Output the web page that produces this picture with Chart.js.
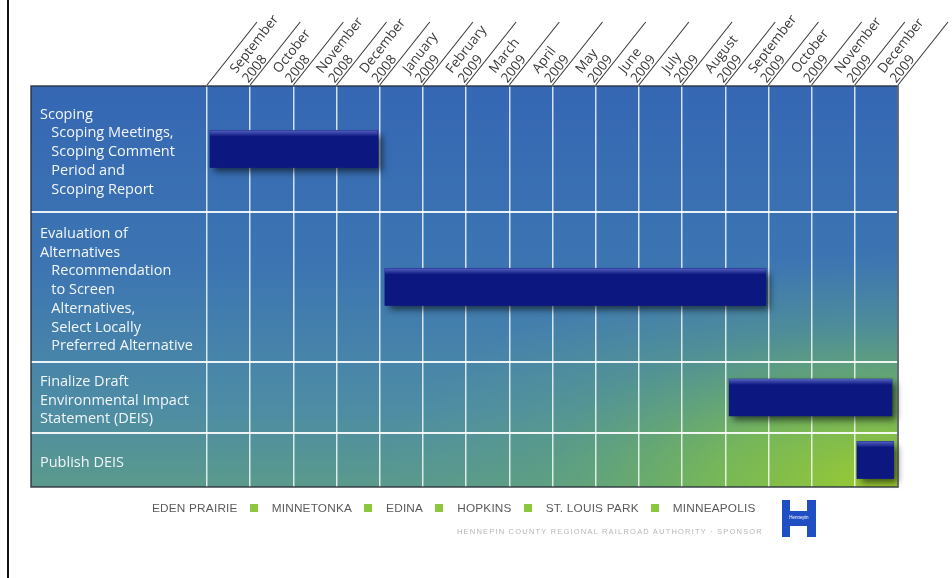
<!DOCTYPE html>
<html>
<head>
<meta charset="utf-8">
<script src="https://cdn.jsdelivr.net/npm/chart.js@4/dist/chart.umd.min.js"></script>
<style>
  html, body { margin: 0; padding: 0; background: #fff; }
  #wrap { position: relative; width: 952px; height: 578px; overflow: hidden; }
  #edge { position: absolute; left: 7px; top: 0; width: 2px; height: 578px; background: #111; }
  #footer { position: absolute; left: 152px; top: 501px; display: flex; align-items: center;
            font-family: "Liberation Sans", Arial, sans-serif; font-size: 11.8px; color: #5a5a5a; letter-spacing: 0.2px; }
  #footer .sq { width: 8px; height: 8px; background: #8dc63f; margin: 0 14px 0 12px; }
  #sponsor { position: absolute; right: 189px; top: 527px; font-family: "Liberation Sans", Arial, sans-serif;
             font-size: 7.5px; color: #b4b8b8; letter-spacing: 1.2px; }
  #logo { position: absolute; left: 782px; top: 500px; width: 34px; height: 37px; background: #1f4fc2; }
  #logo .notch { position: absolute; left: 8px; width: 17px; height: 11px; background: #fff; }
  #logo .top { top: 0; }
  #logo .bottom { bottom: 0; }
  #logo span { position: absolute; left: 0; width: 34px; top: 15px; text-align: center; font-family: "Liberation Sans", Arial, sans-serif;
               font-size: 4.5px; color: #fff; }
</style>
</head>
<body>
<div id="wrap">
  <canvas id="ganttChart"></canvas>
  <div id="edge"></div>
  <div id="footer"></div>
  <div id="sponsor">HENNEPIN COUNTY REGIONAL RAILROAD AUTHORITY · SPONSOR</div>
  <div id="logo"><div class="notch top"></div><div class="notch bottom"></div><span>Hennepin</span></div>
</div>
<script>
// Data

const months = [
  ["September", "2008"], ["October", "2008"], ["November", "2008"], ["December", "2008"],
  ["January", "2009"], ["February", "2009"], ["March", "2009"], ["April", "2009"],
  ["May", "2009"], ["June", "2009"], ["July", "2009"], ["August", "2009"],
  ["September", "2009"], ["October", "2009"], ["November", "2009"], ["December", "2009"]
];

const tasks = [
  ["Scoping", "   Scoping Meetings,", "   Scoping Comment", "   Period and", "   Scoping Report"],
  ["Evaluation of", "Alternatives", "   Recommendation", "   to Screen", "   Alternatives,", "   Select Locally", "   Preferred Alternative"],
  ["Finalize Draft", "Environmental Impact", "Statement (DEIS)"],
  ["Publish DEIS"]
];

// month index, 0 = start of September 2008
const taskStart = [0.07, 4.12, 12.09, 15.05];
const taskEnd = [3.95, 12.94, 15.86, 15.9];

const towns = ["EDEN PRAIRIE", "MINNETONKA", "EDINA", "HOPKINS", "ST. LOUIS PARK", "MINNEAPOLIS"];

// Layout

const rowHeights = [126, 150, 71, 54];
const rowEdges = [0];
rowHeights.forEach(h => rowEdges.push(rowEdges[rowEdges.length - 1] + h));
const rowCenters = rowHeights.map((h, i) => rowEdges[i] + h / 2);
const labelInset = 9;

const footer = document.getElementById("footer");
towns.forEach(function (name, i) {
  if (i > 0) {
    const sq = document.createElement("div");
    sq.className = "sq";
    footer.appendChild(sq);
  }
  const t = document.createElement("span");
  t.textContent = name;
  footer.appendChild(t);
});

// Plugins

const panelPlugin = {
  id: "panel",
  beforeDraw(chart) {
    const ctx = chart.ctx;
    const area = chart.chartArea;
    const left = chart.scales.y.left - labelInset;
    const w = area.right - left;
    const h = area.bottom - area.top;
    ctx.save();
    const vg = ctx.createLinearGradient(0, area.top, 0, area.bottom);
    vg.addColorStop(0, "#3567b3");
    vg.addColorStop(0.45, "#3c75b2");
    vg.addColorStop(0.8, "#4d8ca4");
    vg.addColorStop(1, "#5a9a8c");
    ctx.fillStyle = vg;
    ctx.fillRect(left, area.top, w, h);
    ctx.beginPath();
    ctx.rect(left, area.top, w, h);
    ctx.clip();
    ctx.translate(area.right, area.bottom);
    ctx.scale(2.2, 1);
    const rg = ctx.createRadialGradient(0, 0, 0, 0, 0, 235);
    rg.addColorStop(0, "rgba(158,204,44,1)");
    rg.addColorStop(0.35, "rgba(128,192,72,0.78)");
    rg.addColorStop(0.7, "rgba(100,170,110,0.3)");
    rg.addColorStop(1, "rgba(100,160,140,0)");
    ctx.fillStyle = rg;
    ctx.fillRect(-w, -h, w + 10, h + 10);
    ctx.restore();

    // row separators
    const y = chart.scales.y;
    ctx.save();
    ctx.strokeStyle = "rgba(255,255,255,0.9)";
    ctx.lineWidth = 2;
    rowEdges.slice(1, -1).forEach(function (v) {
      const py = Math.round(y.getPixelForValue(v));
      ctx.beginPath();
      ctx.moveTo(left, py);
      ctx.lineTo(area.right, py);
      ctx.stroke();
    });
    ctx.restore();
  },
  afterDraw(chart) {
    const ctx = chart.ctx;
    const area = chart.chartArea;
    const left = chart.scales.y.left - labelInset;
    const x = chart.scales.x;
    ctx.save();
    ctx.strokeStyle = "rgba(40,48,58,0.9)";
    ctx.lineWidth = 1.5;
    ctx.strokeRect(left, area.top, area.right - left, area.bottom - area.top);
    // diagonal header lines
    ctx.strokeStyle = "#3a3a3a";
    ctx.lineWidth = 1.1;
    for (let i = 0; i <= months.length; i++) {
      const px = x.getPixelForValue(i);
      ctx.beginPath();
      ctx.moveTo(px, area.top - 1);
      ctx.lineTo(px + 50, area.top - 64);
      ctx.stroke();
    }
    ctx.restore();
  },
  beforeDatasetsDraw(chart) {
    const ctx = chart.ctx;
    ctx.save();
    ctx.shadowColor = "rgba(0,0,0,0.6)";
    ctx.shadowBlur = 7;
    ctx.shadowOffsetX = 4;
    ctx.shadowOffsetY = 4;
    ctx.fillStyle = "#0d1780";
    chart.getDatasetMeta(0).data.forEach(function (bar) {
      const p = bar.getProps(["x", "y", "base", "height"], true);
      ctx.fillRect(Math.min(p.x, p.base), p.y - p.height / 2, Math.abs(p.x - p.base), p.height);
    });
    ctx.restore();
  },
  afterDatasetsDraw(chart) {
    const ctx = chart.ctx;
    ctx.save();
    chart.getDatasetMeta(0).data.forEach(function (bar) {
      const p = bar.getProps(["x", "y", "base", "height"], true);
      const top = p.y - p.height / 2;
      const g = ctx.createLinearGradient(0, top, 0, top + 6);
      g.addColorStop(0, "rgba(100,115,205,0.8)");
      g.addColorStop(1, "rgba(100,115,205,0)");
      ctx.fillStyle = g;
      ctx.fillRect(Math.min(p.x, p.base), top, Math.abs(p.x - p.base), 6);
    });
    ctx.restore();
  }
};

// Chart

const ganttChart = document.getElementById("ganttChart");

const ganttData = {
  datasets: [
    {
      label: "Schedule",
      data: tasks.map((t, i) => ({ x: [taskStart[i], taskEnd[i]], y: rowCenters[i] })),
      backgroundColor: "#0d1780",
      borderWidth: 0,
      barThickness: 37,
    },
  ],
};

const ganttConfig = {
  type: "bar",
  data: ganttData,
  options: {
    indexAxis: "y",
    responsive: true,
    maintainAspectRatio: false,
    animation: false,
    layout: { padding: { left: 40, right: 54, top: 0, bottom: 91 } },
    plugins: {
      legend: { display: false },
      tooltip: { enabled: false },
    },
    scales: {
      x: {
        type: "linear",
        position: "top",
        min: 0,
        max: months.length,
        offset: false,
        afterBuildTicks: function (s) {
          s.ticks = [];
          for (let i = 0; i <= months.length * 2; i++) s.ticks.push({ value: i / 2 });
        },
        afterFit: function (s) { s.height = 86; },
        grid: {
          color: (c) => (c.tick && Number.isInteger(c.tick.value) ? "rgba(255,255,255,0.8)" : "rgba(0,0,0,0)"),
          lineWidth: 1.5,
          drawTicks: false,
        },
        border: { display: false },
        ticks: {
          autoSkip: false,
          minRotation: 52,
          maxRotation: 52,
          padding: 0,
          labelOffset: 29,
          color: "#3a3a3a",
          font: { family: "'Open Sans', sans-serif", size: 13.5, lineHeight: 1.15 },
          callback: (v) => (Number.isInteger(v) ? "" : months[Math.floor(v)]),
        },
      },
      y: {
        type: "linear",
        reverse: true,
        min: 0,
        max: rowEdges[rowEdges.length - 1],
        offset: false,
        afterBuildTicks: function (s) { s.ticks = rowCenters.map((v) => ({ value: v })); },
        afterFit: function (s) { s.width = 167; },
        grid: { display: false, drawTicks: false },
        border: { display: false },
        ticks: {
          autoSkip: false,
          crossAlign: "far",
          padding: 0,
          labelOffset: 3,
          color: "#f3f6fa",
          font: { family: "'Open Sans', sans-serif", size: 14.5, lineHeight: 1.29 },
          callback: (v, i) => tasks[i],
        },
      },
    },
  },
  plugins: [panelPlugin],
};

const gantt = new Chart(ganttChart, ganttConfig);
</script>
</body>
</html>
